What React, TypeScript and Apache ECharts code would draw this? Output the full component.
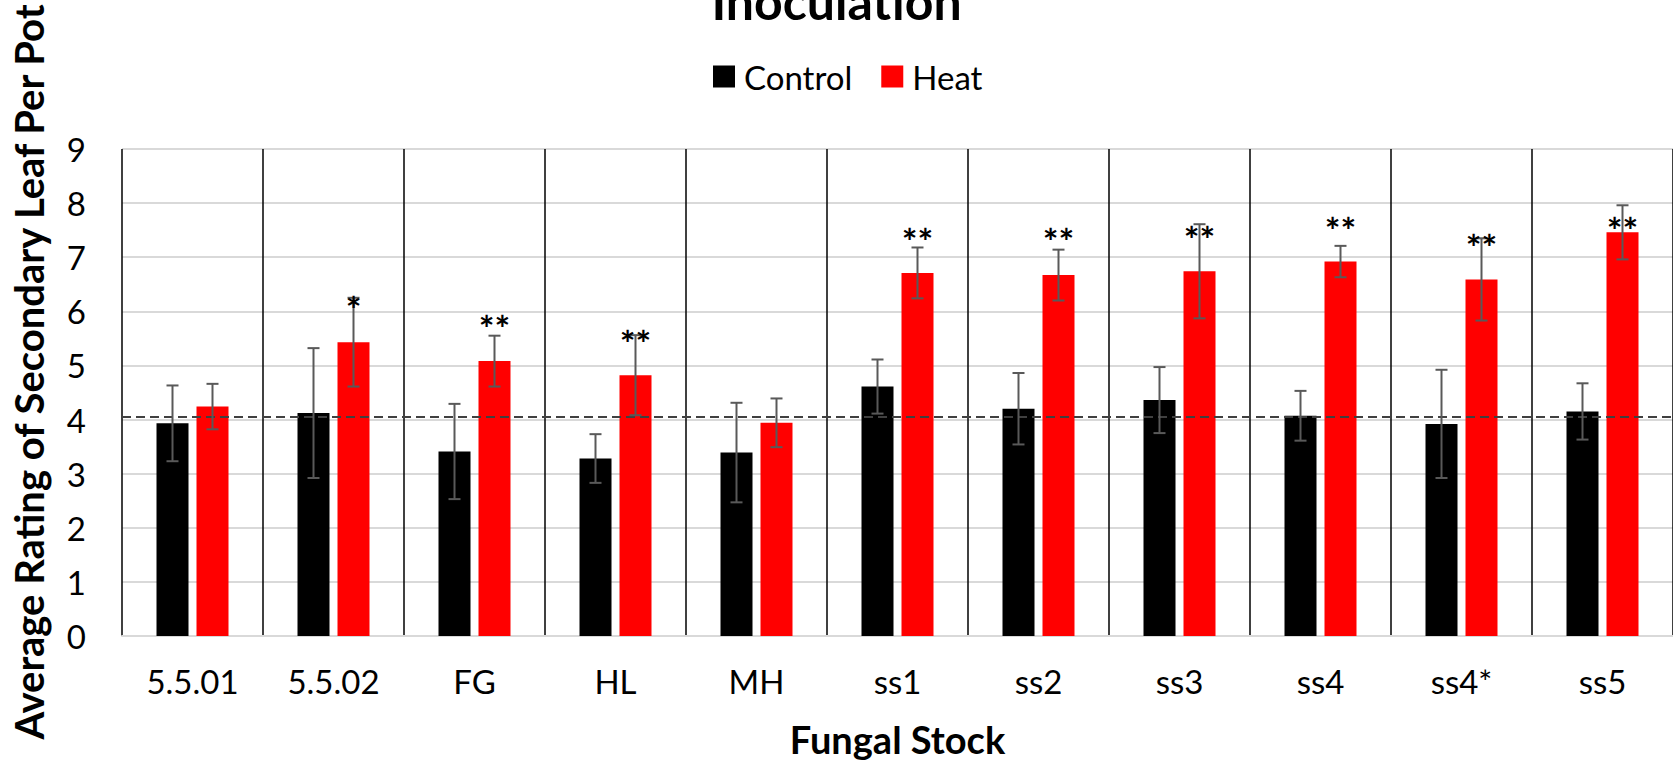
import React, { useEffect, useRef } from "react";
import * as echarts from "echarts";

const categories = ["5.5.01", "5.5.02", "FG", "HL", "MH", "ss1", "ss2", "ss3", "ss4", "ss4*", "ss5"];
const controlMean = [3.93, 4.12, 3.41, 3.28, 3.39, 4.61, 4.2, 4.36, 4.07, 3.92, 4.15];
const controlErr = [0.7, 1.2, 0.88, 0.45, 0.92, 0.5, 0.66, 0.61, 0.46, 1.0, 0.52];
const heatMean = [4.24, 5.43, 5.08, 4.82, 3.94, 6.71, 6.67, 6.74, 6.92, 6.59, 7.46];
const heatErr = [0.42, 0.82, 0.47, 0.74, 0.45, 0.47, 0.47, 0.87, 0.29, 0.76, 0.5];
const starText = ["", "*", "**", "**", "", "**", "**", "**", "**", "**", "**"];
const starLevel = [null, 6.18, 5.83, 5.55, null, 7.44, 7.43, 7.47, 7.65, 7.32, 7.65];
const referenceLevel = 4.05;
const yTicks = { min: 0, max: 9, interval: 1 };

const FONT = "Lato";
const BAR_W = 32;
const BAR_GAP_PX = 8;
const OFFSET = (BAR_W + BAR_GAP_PX) / 2;

function errorSeries(name: string, means: number[], errs: number[], dx: number) {
  return {
    type: "custom",
    name: name + " error",
    z: 6,
    silent: true,
    encode: { x: 0, y: [1, 2] },
    data: means.map((m, i) => [i, m - errs[i], m + errs[i]]),
    renderItem: (params: any, api: any) => {
      const x = api.value(0);
      const pLo = api.coord([x, api.value(1)]);
      const pHi = api.coord([x, api.value(2)]);
      const cx = pLo[0] + dx;
      const style = { stroke: "#595959", lineWidth: 2 };
      return {
        type: "group",
        children: [
          { type: "line", shape: { x1: cx, y1: pHi[1], x2: cx, y2: pLo[1] }, style },
          { type: "line", shape: { x1: cx - 6, y1: pHi[1], x2: cx + 6, y2: pHi[1] }, style },
          { type: "line", shape: { x1: cx - 6, y1: pLo[1], x2: cx + 6, y2: pLo[1] }, style },
        ],
      };
    },
  };
}

export default function App() {
  const ref = useRef<HTMLDivElement>(null);
  useEffect(() => {
    const chart = echarts.init(ref.current!, null, { renderer: "svg" });
    const starData = starLevel
      .map((lv, i) => (lv == null ? null : [i, lv]))
      .filter((d) => d != null);
    chart.setOption({
      animation: false,
      backgroundColor: "#ffffff",
      title: {
        text: "Inoculation",
        left: "center",
        top: -29,
        textStyle: { fontFamily: FONT, fontWeight: "bold", fontSize: 50, color: "#000" },
      },
      legend: {
        data: ["Control", "Heat"],
        left: 708,
        top: 55,
        itemWidth: 22,
        itemHeight: 22,
        itemGap: 29,
        icon: "rect",
        textStyle: { fontFamily: FONT, fontSize: 33, color: "#000", padding: [0, 0, 0, 4] },
      },
      grid: { left: 122, top: 149, width: 1552, height: 487, containLabel: false },
      xAxis: {
        type: "category",
        data: categories,
        axisLine: { show: true, lineStyle: { color: "#d9d9d9", width: 2 } },
        axisTick: { show: false },
        axisLabel: { margin: 28, fontFamily: FONT, fontSize: 33, color: "#000", interval: 0 },
        splitLine: { show: true, interval: 0, lineStyle: { color: "#000", width: 1.5 } },
        name: "Fungal Stock",
        nameLocation: "middle",
        nameGap: 84,
        nameTextStyle: { fontFamily: FONT, fontWeight: "bold", fontSize: 38, color: "#000" },
      },
      yAxis: {
        type: "value",
        min: yTicks.min,
        max: yTicks.max,
        interval: yTicks.interval,
        axisLine: { show: false },
        axisTick: { show: false },
        axisLabel: { margin: 36, fontFamily: FONT, fontSize: 33, color: "#000" },
        splitLine: { show: true, lineStyle: { color: "#d9d9d9", width: 2 } },
      },
      graphic: [
        {
          type: "text",
          x: 29,
          y: 372,
          rotation: Math.PI / 2,
          style: {
            text: "Average Rating of Secondary Leaf Per Pot",
            font: `bold 40px ${FONT}`,
            fill: "#000",
            textAlign: "center",
            textVerticalAlign: "middle",
          },
        },
      ],
      series: [
        {
          type: "bar",
          name: "Control",
          data: controlMean,
          barWidth: BAR_W,
          barGap: `${(BAR_GAP_PX / BAR_W) * 100}%`,
          itemStyle: { color: "#000000" },
          z: 2,
          markLine: {
            silent: true,
            symbol: "none",
            z: 5,
            label: { show: false },
            lineStyle: { type: [9, 5], color: "#404040", width: 2 },
            data: [{ yAxis: referenceLevel }],
          },
        },
        {
          type: "bar",
          name: "Heat",
          data: heatMean,
          barWidth: BAR_W,
          itemStyle: { color: "#ff0000" },
          z: 2,
        },
        errorSeries("Control", controlMean, controlErr, -OFFSET),
        errorSeries("Heat", heatMean, heatErr, OFFSET),
        {
          type: "custom",
          name: "stars",
          z: 7,
          silent: true,
          encode: { x: 0, y: 1 },
          data: starData,
          renderItem: (params: any, api: any) => {
            const i = api.value(0);
            const p = api.coord([i, api.value(1)]);
            return {
              type: "text",
              x: p[0] + OFFSET,
              y: p[1] + 7,
              style: {
                text: starText[i],
                font: `bold 37px ${FONT}`,
                fill: "#000",
                textAlign: "center",
                textVerticalAlign: "middle",
              },
            };
          },
        },
      ],
    });
    return () => chart.dispose();
  }, []);
  return (
    <div
      ref={ref}
      style={{ position: "absolute", left: 0, top: 0, width: 1673, height: 764 }}
    />
  );
}
